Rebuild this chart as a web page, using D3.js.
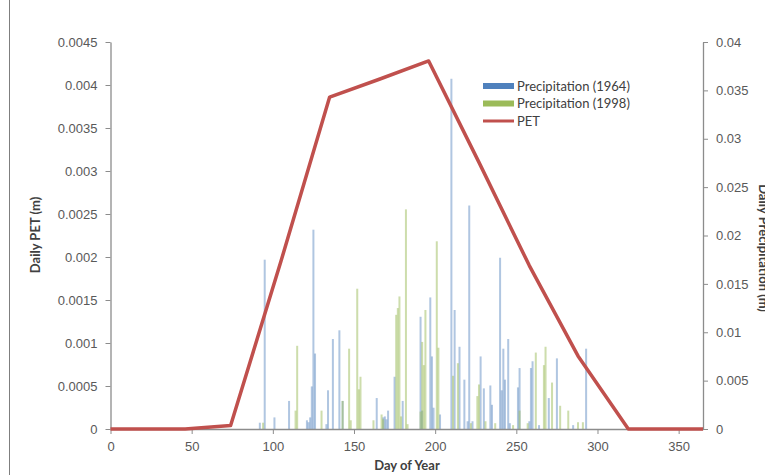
<!DOCTYPE html>
<html>
<head>
<meta charset="utf-8">
<script src="https://cdn.jsdelivr.net/npm/d3@7"></script>
<style>
  body { margin: 0; background: #fff; }
  svg { display: block; font-family: Lato, "Noto Sans", sans-serif; }
</style>
</head>
<body>
<div id="chart"></div>
<script>
// PET (m/day) at mid-month days
const petDays = [0, 15, 46, 74, 105, 135, 166, 196, 227, 258, 288, 319, 349, 365];
const petValues = [0, 0, 0, 0.00004, 0.00195, 0.00386, 0.00407, 0.00428, 0.0031, 0.0019, 0.00085, 0, 0, 0];

// daily precipitation (m), 1964
const days1964 = [92, 95, 101, 110, 121, 122, 123, 124, 125, 126, 133, 134, 137, 141, 143, 164, 168, 169, 170, 171, 175, 180, 191, 192, 197, 198, 199, 203, 210, 212, 215, 218, 220, 221, 223, 228, 230, 234, 235, 240, 241, 242, 243, 245, 246, 251, 252, 258, 259, 260, 264, 270, 275, 285, 293];
const precip1964 = [0.00065, 0.0175, 0.0012, 0.0029, 0.0009, 0.0007, 0.0012, 0.0044, 0.0206, 0.0078, 0.0005, 0.004, 0.0093, 0.0102, 0.0029, 0.0032, 0.0012, 0.0013, 0.001, 0.0019, 0.0054, 0.0029, 0.0116, 0.0019, 0.0136, 0.0075, 0.0022, 0.0015, 0.0362, 0.0123, 0.0085, 0.0051, 0.0008, 0.0231, 0.0008, 0.0075, 0.0042, 0.0045, 0.0025, 0.0177, 0.004, 0.0083, 0.0051, 0.0093, 0.0006, 0.0043, 0.0063, 0.0008, 0.0063, 0.007, 0.0004, 0.0032, 0.0073, 0.0004, 0.0083];

// daily precipitation (m), 1998
const days1998 = [94, 114, 115, 130, 143, 147, 148, 152, 153, 154, 162, 167, 168, 176, 177, 178, 179, 182, 183, 191, 192, 193, 194, 201, 202, 211, 214, 222, 226, 227, 231, 237, 248, 252, 257, 262, 267, 268, 272, 277, 282, 288, 291];
const precip1998 = [0.00065, 0.0019, 0.0086, 0.0019, 0.0029, 0.0083, 0.0009, 0.0145, 0.0041, 0.0054, 0.0009, 0.0015, 0.001, 0.0118, 0.0125, 0.0137, 0.0013, 0.0227, 0.0005, 0.0018, 0.009, 0.0066, 0.0123, 0.0194, 0.0084, 0.0055, 0.0068, 0.0006, 0.0034, 0.0046, 0.0008, 0.0006, 0.0004, 0.0019, 0.0006, 0.0079, 0.0066, 0.0085, 0.0048, 0.0024, 0.0019, 0.0007, 0.0007];

const xTicks = [0, 50, 100, 150, 200, 250, 300, 350];
const petTicks = [0, 0.0005, 0.001, 0.0015, 0.002, 0.0025, 0.003, 0.0035, 0.004, 0.0045];
const precipTicks = [0, 0.005, 0.01, 0.015, 0.02, 0.025, 0.03, 0.035, 0.04];

const W = 765, H = 475;
const plotLeft = 110.5, plotRight = 703, plotTop = 42, plotBottom = 429;
const blue = "#4f81bd", green = "#9bbb59", red = "#c0504d";
const axisGrey = "#8c8c8c", labelCol = "#595959";

const svg = d3.select("#chart").append("svg")
  .attr("width", W).attr("height", H);

// outer chart border
svg.append("line").attr("x1", 9.5).attr("x2", 9.5).attr("y1", 0).attr("y2", H)
  .attr("stroke", "#7f7f7f").attr("stroke-width", 1);

const x = d3.scaleLinear().domain([0, 365]).range([plotLeft, plotRight]);
const yL = d3.scaleLinear().domain([0, 0.0045]).range([plotBottom, plotTop]);
const yR = d3.scaleLinear().domain([0, 0.04]).range([plotBottom, plotTop]);

const fmt = d => String(+d.toFixed(4));

// bars
const bars1964 = days1964.map((d, i) => ({ day: d, v: precip1964[i] }));
const bars1998 = days1998.map((d, i) => ({ day: d, v: precip1998[i] }));

svg.append("g").selectAll("rect").data(bars1964).enter().append("rect")
  .attr("x", d => x(d.day) - 1)
  .attr("y", d => yR(d.v))
  .attr("width", 2)
  .attr("height", d => yR(0) - yR(d.v))
  .attr("fill", blue).attr("opacity", 0.45);

svg.append("g").selectAll("rect").data(bars1998).enter().append("rect")
  .attr("x", d => x(d.day) - 1)
  .attr("y", d => yR(d.v))
  .attr("width", 2)
  .attr("height", d => yR(0) - yR(d.v))
  .attr("fill", green).attr("opacity", 0.5);

// axes
function styleAxis(g) {
  g.select(".domain").attr("stroke", axisGrey).attr("stroke-width", 1.3);
  g.selectAll(".tick line").attr("stroke", axisGrey);
  g.selectAll(".tick text").attr("fill", labelCol).style("font-size", "13px");
}

svg.append("g").attr("transform", `translate(0,${plotBottom})`)
  .call(d3.axisBottom(x).tickValues(xTicks).tickSize(5).tickSizeOuter(0).tickPadding(8))
  .call(styleAxis);

svg.append("g").attr("transform", `translate(${plotLeft},0)`)
  .call(d3.axisLeft(yL).tickValues(petTicks).tickFormat(fmt).tickSize(5).tickSizeOuter(0).tickPadding(8))
  .call(styleAxis);

svg.append("g").attr("transform", `translate(${plotRight},0)`)
  .call(d3.axisRight(yR).tickValues(precipTicks).tickFormat(fmt).tickSize(5).tickSizeOuter(0).tickPadding(8))
  .call(styleAxis);

// PET line
const line = d3.line().x((d, i) => x(petDays[i])).y(d => yL(d));
svg.append("path").datum(petValues)
  .attr("d", line)
  .attr("fill", "none").attr("stroke", red).attr("stroke-width", 3.5)
  .attr("stroke-linejoin", "round");

// axis titles
svg.append("text").attr("transform", "translate(40,235) rotate(-90)")
  .attr("text-anchor", "middle").attr("font-weight", "bold")
  .attr("font-size", 13).attr("fill", "#404040").text("Daily PET (m)");

// right title runs off the edge, as in the original export
svg.append("text").attr("transform", "translate(759,248) rotate(90)")
  .attr("text-anchor", "middle").attr("font-weight", "bold")
  .attr("font-size", 13).attr("fill", "#404040").text("Daily Precipitation (m)");

svg.append("text").attr("x", 407).attr("y", 470)
  .attr("text-anchor", "middle").attr("font-weight", "bold")
  .attr("font-size", 13).attr("fill", "#404040").text("Day of Year");

// legend
const legend = svg.append("g").attr("transform", "translate(483,86)");
const items = [
  { label: "Precipitation (1964)", color: blue, type: "rect" },
  { label: "Precipitation (1998)", color: green, type: "rect" },
  { label: "PET", color: red, type: "line" }
];
items.forEach((it, i) => {
  const g = legend.append("g").attr("transform", `translate(0,${i * 17.5})`);
  if (it.type === "rect") {
    g.append("rect").attr("x", 0).attr("y", -3).attr("width", 31).attr("height", 6).attr("fill", it.color);
  } else {
    g.append("line").attr("x1", 0).attr("x2", 31).attr("y1", 0).attr("y2", 0)
      .attr("stroke", it.color).attr("stroke-width", 3);
  }
  g.append("text").attr("x", 34).attr("y", 0).attr("dy", "0.35em")
    .attr("font-size", 13).attr("fill", "#404040").text(it.label);
});
</script>
</body>
</html>
